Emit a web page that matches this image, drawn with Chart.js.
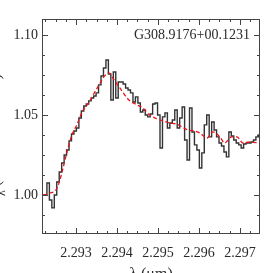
<!DOCTYPE html>
<html>
<head>
<meta charset="utf-8">
<script src="https://cdn.jsdelivr.net/npm/chart.js@4/dist/chart.umd.min.js"></script>
<style>
html,body{margin:0;padding:0;background:#fff;}
#wrap{width:273px;height:273px;position:relative;}
</style>
</head>
<body>
<div id="wrap"><canvas id="c" width="273" height="273"></canvas></div>
<script>
// ---- data ----
const objectName = "G308.9176+00.1231";
const xTitle = "λ (μm)";
const yTitleMain = "F";
const yTitleSub = "λ";
const yTitleRest = " (normalized flux)";

const xTickValues = [2.293, 2.294, 2.295, 2.296, 2.297];
const yTickValues = [1.00, 1.05, 1.10];

const specWave = [
  2.29220, 2.29226, 2.29232, 2.29238, 2.29244, 2.29250, 2.29256, 2.29262, 2.29268, 2.29274,
  2.29280, 2.29286, 2.29292, 2.29298, 2.29304, 2.29310, 2.29316, 2.29322, 2.29328, 2.29334,
  2.29340, 2.29346, 2.29352, 2.29358, 2.29364, 2.29370, 2.29376, 2.29382, 2.29388, 2.29394,
  2.29400, 2.29406, 2.29412, 2.29418, 2.29424, 2.29430, 2.29436, 2.29442, 2.29448, 2.29454,
  2.29460, 2.29466, 2.29472, 2.29478, 2.29484, 2.29490, 2.29496, 2.29502, 2.29508, 2.29514,
  2.29520, 2.29526, 2.29532, 2.29538, 2.29544, 2.29550, 2.29556, 2.29562, 2.29568, 2.29574,
  2.29580, 2.29586, 2.29592, 2.29598, 2.29604, 2.29610, 2.29616, 2.29622, 2.29628, 2.29634,
  2.29640, 2.29646, 2.29652, 2.29658, 2.29664, 2.29670, 2.29676, 2.29682, 2.29688, 2.29694,
  2.29700, 2.29706, 2.29712, 2.29718, 2.29724, 2.29730, 2.29736, 2.29742, 2.29748
];
const specFlux = [
  1.0000, 1.0000, 1.0075, 0.9969, 0.9919, 1.0000, 1.0081, 1.0144, 1.0200, 1.0250,
  1.0281, 1.0338, 1.0381, 1.0400, 1.0419, 1.0481, 1.0525, 1.0556, 1.0569, 1.0588,
  1.0606, 1.0619, 1.0638, 1.0688, 1.0744, 1.0794, 1.0844, 1.0756, 1.0594, 1.0769,
  1.0606, 1.0706, 1.0706, 1.0694, 1.0669, 1.0656, 1.0638, 1.0581, 1.0613, 1.0575,
  1.0519, 1.0531, 1.0500, 1.0488, 1.0506, 1.0569, 1.0575, 1.0500, 1.0294, 1.0488,
  1.0513, 1.0419, 1.0450, 1.0469, 1.0531, 1.0419, 1.0481, 1.0550, 1.0344, 1.0219,
  1.0544, 1.0394, 1.0313, 1.0281, 1.0169, 1.0263, 1.0438, 1.0500, 1.0363, 1.0456,
  1.0406, 1.0363, 1.0325, 1.0306, 1.0269, 1.0238, 1.0394, 1.0369, 1.0344, 1.0325,
  1.0313, 1.0294, 1.0319, 1.0325, 1.0325, 1.0331, 1.0344, 1.0363, 1.0375
];

const modelWave = [
  2.29220, 2.29234, 2.29254, 2.29266, 2.29278, 2.29290, 2.29302, 2.29315, 2.29332, 2.29346,
  2.29359, 2.29368, 2.29380, 2.29393, 2.29407, 2.29429, 2.29449, 2.29463, 2.29480, 2.29498,
  2.29512, 2.29529, 2.29544, 2.29559, 2.29573, 2.29590, 2.29602, 2.29620, 2.29634, 2.29651,
  2.29663, 2.29680, 2.29693, 2.29707, 2.29724, 2.29746
];
const modelFlux = [
  1.0000, 1.0010, 1.0044, 1.0144, 1.0269, 1.0375, 1.0438, 1.0519, 1.0581, 1.0644,
  1.0700, 1.0738, 1.0763, 1.0719, 1.0669, 1.0594, 1.0563, 1.0544, 1.0500, 1.0475,
  1.0463, 1.0450, 1.0444, 1.0425, 1.0406, 1.0400, 1.0388, 1.0356, 1.0394, 1.0363,
  1.0325, 1.0363, 1.0363, 1.0325, 1.0331, 1.0325
];

const xMin = 2.29217, xMax = 2.29749;
const yMin = 0.9756, yMax = 1.1100;
const xMinorStep = 0.00025, yMinorStep = 0.0125;

// ---- chart ----
const INK = '#2a2a2a';
const serif = '"Liberation Serif", "DejaVu Serif", serif';

const framePlugin = {
  id: 'frame',
  afterDatasetsDraw(chart) {
    const ctx = chart.ctx, a = chart.chartArea;
    const xs = chart.scales.x, ys = chart.scales.y;
    ctx.save();
    ctx.strokeStyle = '#444';
    ctx.lineWidth = 1;
    ctx.strokeRect(a.left + 0.5, a.top + 0.5, a.right - a.left - 1, a.bottom - a.top - 1);
    ctx.beginPath();
    const MAJ = 6, MIN = 3;
    const nx = Math.round((xMax - xMin) / xMinorStep) + 2;
    const x0 = Math.ceil(xMin / xMinorStep - 1e-6) * xMinorStep;
    for (let i = 0; i < nx; i++) {
      const v = x0 + i * xMinorStep;
      if (v > xMax) break;
      const isMaj = xTickValues.some(t => Math.abs(t - v) < 1e-7);
      const len = isMaj ? MAJ : MIN;
      const px = Math.round(xs.getPixelForValue(v)) + 0.5;
      ctx.moveTo(px, a.bottom); ctx.lineTo(px, a.bottom - len);
      ctx.moveTo(px, a.top); ctx.lineTo(px, a.top + len);
    }
    const y0 = Math.ceil(yMin / yMinorStep - 1e-6) * yMinorStep;
    for (let i = 0; i < 100; i++) {
      const v = y0 + i * yMinorStep;
      if (v > yMax) break;
      const isMaj = yTickValues.some(t => Math.abs(t - v) < 1e-7);
      const len = isMaj ? MAJ : MIN;
      const py = Math.round(ys.getPixelForValue(v)) + 0.5;
      ctx.moveTo(a.left, py); ctx.lineTo(a.left + len, py);
      ctx.moveTo(a.right, py); ctx.lineTo(a.right - len, py);
    }
    ctx.stroke();

    ctx.fillStyle = INK;
    ctx.font = '14px ' + serif;
    ctx.textAlign = 'right';
    ctx.textBaseline = 'middle';
    ctx.fillText(objectName, a.right - 10, ys.getPixelForValue(1.10));

    ctx.font = '16px ' + serif;
    ctx.textAlign = 'center';
    ctx.textBaseline = 'top';
    ctx.fillText(xTitle, (a.left + a.right) / 2, 267);

    ctx.save();
    ctx.translate(0, 205);
    ctx.rotate(-Math.PI / 2);
    ctx.textAlign = 'left';
    ctx.textBaseline = 'alphabetic';
    ctx.font = '16px ' + serif;
    ctx.fillText(yTitleMain, 0, 0);
    let w = ctx.measureText(yTitleMain).width;
    ctx.font = '12px ' + serif;
    ctx.fillText(yTitleSub, w, 5);
    w += ctx.measureText(yTitleSub).width;
    ctx.font = '16px ' + serif;
    ctx.fillText(yTitleRest, w, 0);
    ctx.restore();
    ctx.restore();
  }
};

new Chart(document.getElementById('c'), {
  type: 'line',
  data: {
    datasets: [
      {
        label: 'model',
        data: modelWave.map((x, i) => ({x, y: modelFlux[i]})),
        borderColor: '#e8141c',
        borderWidth: 1.3,
        borderDash: [4, 2.5],
        pointRadius: 0,
        cubicInterpolationMode: 'monotone',
        fill: false
      },
      {
        label: 'spectrum',
        data: specWave.map((x, i) => ({x, y: specFlux[i]})),
        borderColor: '#333333',
        borderWidth: 1.4,
        stepped: 'middle',
        pointRadius: 0,
        fill: false
      }
    ]
  },
  plugins: [framePlugin],
  options: {
    responsive: false,
    animation: false,
    devicePixelRatio: 1,
    layout: { padding: { top: 19, right: 13, left: 0, bottom: 0 } },
    plugins: { legend: { display: false }, tooltip: { enabled: false } },
    scales: {
      x: {
        type: 'linear',
        min: xMin, max: xMax,
        afterBuildTicks(s) { s.ticks = xTickValues.map(v => ({value: v})); },
        afterFit(s) { s.height = 39; },
        grid: { display: false, drawTicks: false },
        border: { display: false },
        ticks: {
          autoSkip: false, maxRotation: 0, padding: 11,
          color: INK,
          font: { family: serif, size: 14 },
          callback: v => v.toFixed(3)
        }
      },
      y: {
        type: 'linear',
        min: yMin, max: yMax,
        afterBuildTicks(s) { s.ticks = yTickValues.map(v => ({value: v})); },
        afterFit(s) { s.width = 42; },
        grid: { display: false, drawTicks: false },
        border: { display: false },
        ticks: {
          padding: 4,
          color: INK,
          font: { family: serif, size: 14 },
          callback: v => v.toFixed(2)
        }
      }
    }
  }
});
</script>
</body>
</html>
